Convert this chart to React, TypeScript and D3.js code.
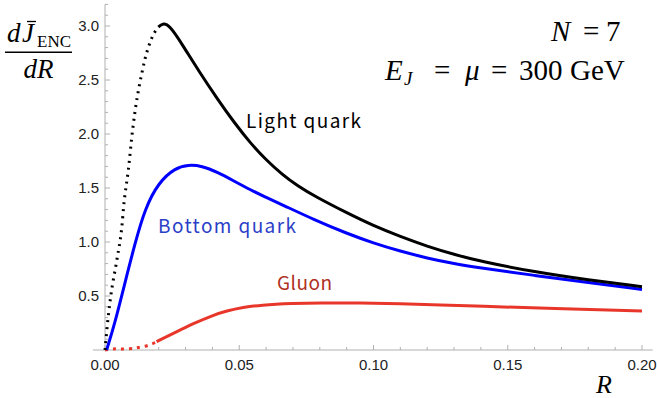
import React from 'react';
import * as d3 from 'd3';

const width = 657;
const height = 398;

// x positions (R) and values
const lightDotR = [0, 0.0012, 0.0025, 0.0044, 0.006, 0.0072, 0.0087, 0.0103, 0.0118, 0.0137, 0.0155, 0.018, 0.0199];
const lightDotV = [0, 0.31, 0.56, 0.83, 1.08, 1.39, 1.67, 2.04, 2.31, 2.56, 2.75, 2.92, 2.99];

const lightR = [0.0199, 0.0214, 0.024, 0.029, 0.035, 0.042, 0.048, 0.054, 0.06, 0.066, 0.072, 0.078, 0.09, 0.1, 0.11, 0.12, 0.13, 0.14, 0.16, 0.18, 0.2];
const lightV = [2.99, 3.025, 3.01, 2.82, 2.58, 2.32, 2.11, 1.92, 1.76, 1.625, 1.515, 1.425, 1.27, 1.15, 1.05, 0.96, 0.885, 0.82, 0.722, 0.648, 0.586];

const bottomR = [0.0006, 0.0037, 0.0074, 0.0112, 0.0149, 0.0199, 0.0261, 0.031, 0.036, 0.042, 0.048, 0.054, 0.06, 0.066, 0.078, 0.09, 0.1, 0.11, 0.12, 0.13, 0.14, 0.16, 0.18, 0.2];
const bottomV = [0, 0.25, 0.62, 0.99, 1.31, 1.55, 1.685, 1.715, 1.705, 1.645, 1.565, 1.485, 1.413, 1.345, 1.205, 1.08, 0.99, 0.915, 0.85, 0.8, 0.76, 0.69, 0.625, 0.56];

const gluonDotR = [0, 0.0031, 0.0062, 0.0093, 0.0118, 0.0149, 0.0174, 0.0192];
const gluonDotV = [0, 0.01, 0.01, 0.012, 0.02, 0.035, 0.055, 0.077];

const gluonR = [0.0192, 0.026, 0.0329, 0.04, 0.0453, 0.0515, 0.0577, 0.0701, 0.08, 0.095, 0.11, 0.125, 0.14, 0.162, 0.2];
const gluonV = [0.077, 0.16, 0.245, 0.32, 0.362, 0.395, 0.416, 0.432, 0.437, 0.435, 0.428, 0.418, 0.405, 0.388, 0.36];

const xMajor = [0, 0.05, 0.1, 0.15, 0.2];
const yMajor = [0.5, 1.0, 1.5, 2.0, 2.5, 3.0];

const x = d3.scaleLinear().domain([0, 0.2]).range([105, 642]);
const y = d3.scaleLinear().domain([0, 3.2]).range([350, 4.4]);

const zip = (rs: number[], vs: number[]) => rs.map((r, i) => [r, vs[i]] as [number, number]);

const line = d3
  .line<[number, number]>()
  .x(d => x(d[0]))
  .y(d => y(d[1]))
  .curve(d3.curveCatmullRom.alpha(0.5));

const smooth = d3
  .line<[number, number]>()
  .x(d => x(d[0]))
  .y(d => y(d[1]))
  .curve(d3.curveBasis);

const xMinor = d3.range(1, 21).map(i => i / 100).filter(v => Math.abs(v * 20 - Math.round(v * 20)) > 1e-6);
const yMinor = d3.range(1, 33).map(i => i / 10).filter(v => Math.abs(v * 2 - Math.round(v * 2)) > 1e-6);

const tickFont = '"Liberation Sans", Arial, sans-serif';
const serif = '"Liberation Serif", "Times New Roman", serif';
const labelFont = '"Noto Sans CJK JP", "Noto Sans", sans-serif';

export default function App() {
  const axisColor = '#b0b0b0';
  return (
    <div style={{ position: 'absolute', left: 0, top: 0 }}>
      <svg width={width} height={height} style={{ display: 'block', background: 'white' }}>
        {/* axes */}
        <line x1={x(-0.0045)} x2={x(0.204)} y1={y(0)} y2={y(0)} stroke={axisColor} strokeWidth={1} />
        <line x1={x(0)} x2={x(0)} y1={y(0)} y2={y(3.2)} stroke={axisColor} strokeWidth={1} />
        {xMajor.map(v => (
          <g key={'xm' + v}>
            <line x1={x(v)} x2={x(v)} y1={y(0)} y2={y(0) - 5} stroke={axisColor} />
            <text x={x(v)} y={370} textAnchor="middle" fontFamily={tickFont} fontSize={15} fill="#222">
              {d3.format('.2f')(v)}
            </text>
          </g>
        ))}
        {xMinor.map(v => (
          <line key={'xn' + v} x1={x(v)} x2={x(v)} y1={y(0)} y2={y(0) - 3} stroke={axisColor} />
        ))}
        {yMajor.map(v => (
          <g key={'ym' + v}>
            <line x1={x(0)} x2={x(0) + 5} y1={y(v)} y2={y(v)} stroke={axisColor} />
            <text x={99} y={y(v) + 5} textAnchor="end" fontFamily={tickFont} fontSize={15} fill="#222">
              {d3.format('.1f')(v)}
            </text>
          </g>
        ))}
        {yMinor.map(v => (
          <line key={'yn' + v} x1={x(0)} x2={x(0) + 3} y1={y(v)} y2={y(v)} stroke={axisColor} />
        ))}

        {/* curves */}
        <path d={line(zip(gluonDotR, gluonDotV)) || ''} fill="none" stroke="#e8372a" strokeWidth={3} strokeDasharray="3 5" />
        <path d={smooth(zip(gluonR, gluonV)) || ''} fill="none" stroke="#e8372a" strokeWidth={3} />
        <path d={smooth(zip(bottomR, bottomV)) || ''} fill="none" stroke="#0000ff" strokeWidth={3} />
        <path d={line(zip(lightDotR, lightDotV)) || ''} fill="none" stroke="#000" strokeWidth={3} strokeDasharray="2 5" />
        <path d={smooth(zip(lightR, lightV)) || ''} fill="none" stroke="#000" strokeWidth={3} />

        {/* curve labels */}
        <text x={246} y={128} fontFamily={labelFont} fontSize={19} fill="#000" textLength={115} lengthAdjust="spacing">
          Light quark
        </text>
        <text x={158} y={233} fontFamily={labelFont} fontSize={19} fill="#2b3fc8" textLength={138} lengthAdjust="spacing">
          Bottom quark
        </text>
        <text x={277} y={290} fontFamily={labelFont} fontSize={19} fill="#b0301f" textLength={55} lengthAdjust="spacing">
          Gluon
        </text>

        {/* y axis label */}
        <g fontFamily={serif} fill="#000">
          <text x={7} y={42} fontSize={27} fontStyle="italic">d</text>
          <text x={22} y={42} fontSize={27} fontStyle="italic">J</text>
          <line x1={27} x2={36} y1={21.5} y2={21.5} stroke="#000" strokeWidth={1.3} />
          <text x={37} y={47} fontSize={17}>ENC</text>
          <line x1={5} x2={72} y1={52.3} y2={52.3} stroke="#000" strokeWidth={1.6} />
          <text x={38.5} y={78} fontSize={27} fontStyle="italic" textAnchor="middle">dR</text>
        </g>

        {/* annotations */}
        <g fontFamily={serif} fill="#000" fontSize={29}>
          <text x={551} y={41} fontStyle="italic">N</text>
          <text x={583} y={41}>=</text>
          <text x={606} y={41}>7</text>
          <text x={385} y={80} fontStyle="italic">E</text>
          <text x={404} y={85} fontSize={19} fontStyle="italic">J</text>
          <text x={434} y={80}>=</text>
          <text x={465} y={80} fontStyle="italic">μ</text>
          <text x={491} y={80}>=</text>
          <text x={519} y={80}>300</text>
          <text x={570} y={80}>GeV</text>
        </g>

        <text x={596} y={393} fontFamily={serif} fontSize={26} fontStyle="italic">R</text>
      </svg>
    </div>
  );
}
